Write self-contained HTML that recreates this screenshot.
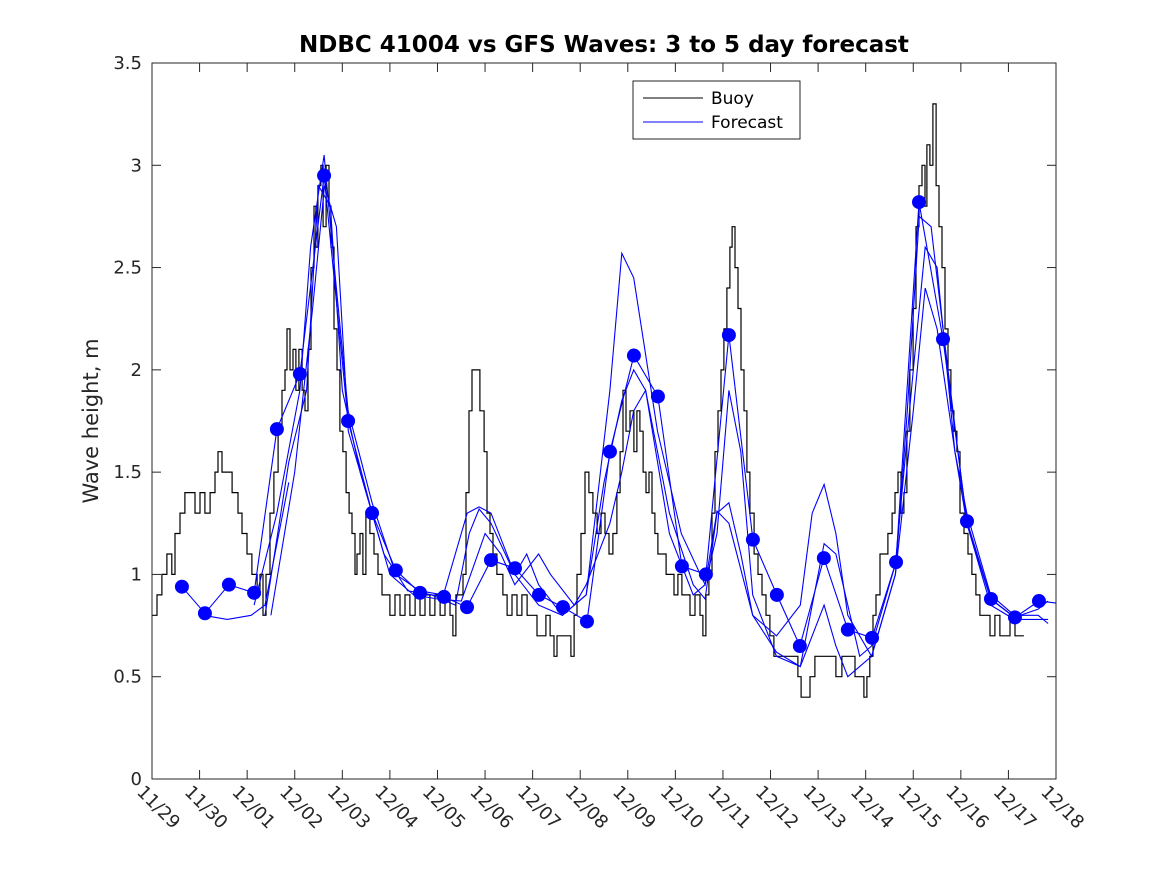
<!DOCTYPE html>
<html><head><meta charset="utf-8"><style>
html,body{margin:0;padding:0;background:#fff;}
svg{display:block;font-family:"DejaVu Sans","Liberation Sans",sans-serif;}
</style></head><body>
<svg id="chart" width="1167" height="875" viewBox="0 0 1167 875" xmlns="http://www.w3.org/2000/svg">
<rect x="0" y="0" width="1167" height="875" fill="#fff"/>
<text x="604" y="52" text-anchor="middle" font-size="23" font-weight="bold" fill="#000">NDBC 41004 vs GFS Waves: 3 to 5 day forecast</text>
<text transform="translate(98,421) rotate(-90)" text-anchor="middle" font-size="21" fill="#262626">Wave height, m</text>
<g id="plot"></g>
<rect x="152" y="63" width="904" height="716" fill="none" stroke="#262626" stroke-width="1"/>
<g>
<rect x="633" y="81" width="167" height="58" fill="#fff" stroke="#262626" stroke-width="1"/>
<line x1="643" y1="98" x2="703" y2="98" stroke="#000" stroke-width="1"/>
<text x="711" y="104" font-size="17" fill="#000">Buoy</text>
<line x1="643" y1="122" x2="703" y2="122" stroke="#0000ff" stroke-width="1"/>
<text x="711" y="128" font-size="17" fill="#000">Forecast</text>
</g>
</svg>
<script>
const xTickLabels = ["11/29","11/30","12/01","12/02","12/03","12/04","12/05","12/06","12/07","12/08","12/09","12/10","12/11","12/12","12/13","12/14","12/15","12/16","12/17","12/18"];
const yTicks = [0,0.5,1,1.5,2,2.5,3,3.5];
const yTickLabels = ["0","0.5","1","1.5","2","2.5","3","3.5"];
const buoyHours = [0,2.5,5,7.5,10,11.6,14.1,16.6,21.7,24.2,26.7,29.3,31.8,33.3,35.3,38.3,40.4,43.4,45.4,47.9,50.4,53,54.5,56,57.5,59.5,61.5,63.6,65.6,67.1,68.1,69.6,71.1,72.6,74.1,75.7,77.2,78.7,80.2,81.7,82.7,83.7,85.2,86.3,87.8,89.3,90.3,91.8,93.3,94.8,96.3,97.9,99.4,100.9,102.4,103.4,104.9,106.4,107.9,109.9,112,114,116,118,120,122.6,125.1,127.6,130.1,132.7,135.2,137.7,140.2,142.7,145.3,147.8,150.3,151.8,153.3,155.4,156.9,158.4,159.9,161.4,163.9,165.4,167.5,169,170.5,172,174,175.5,177,179.1,181.6,184.1,186.6,189.2,191.7,194.2,196.7,198.7,200.8,202.8,204.3,206.8,209.3,211.3,212.9,214.4,216.4,218.4,220.4,222.4,224.5,226.5,228.5,230.5,232.5,234.5,236.1,237.6,239.1,241.1,243.1,244.6,246.1,247.7,249.2,250.7,252.2,253.7,255.2,257.2,259.3,261.3,263.3,265.3,267.3,269.3,271.4,273.9,276.4,277.9,279.4,280.9,282.5,284,285.5,287,288.5,290,291.5,292.6,294.1,295.6,297.1,298.6,300.1,301.6,303.7,305.7,307.7,309.7,311.7,313.7,316.8,319.8,322.8,325.8,327.4,329.9,331.9,334.4,337.9,342,345,348,352,354.6,357.1,359.1,360.6,362.1,363.7,365.2,367.2,369.2,371.2,373.3,374.8,376.3,377.8,379.3,380.8,382.3,383.9,385.4,386.9,388.4,389.9,390.9,392.4,393.9,395.5,397,398.5,400,401.5,403,404.5,406,407.6,409.6,411.6,413.6,415.6,417.6,420.2,422.7,425.2,427.7,430.3,432.8,435.3,437.8,439.8];
const buoyValues = [0.8,0.9,1.0,1.1,1.0,1.2,1.3,1.4,1.3,1.4,1.3,1.4,1.5,1.6,1.5,1.5,1.4,1.3,1.2,1.1,1.0,0.9,1.0,0.8,1.0,1.3,1.5,1.7,1.9,2.0,2.2,2.0,2.1,1.9,2.1,1.9,1.8,2.1,2.5,2.8,2.6,2.9,3.0,2.7,3.0,2.8,2.6,2.2,2.0,1.7,1.6,1.4,1.3,1.2,1.0,1.1,1.2,1.0,1.3,1.2,1.1,1.0,0.9,0.9,0.8,0.9,0.8,0.9,0.8,0.9,0.8,0.9,0.8,0.9,0.8,0.9,0.8,0.7,0.9,0.9,1.0,1.4,1.8,2.0,2.0,1.8,1.6,1.3,1.2,1.1,1.0,1.0,0.9,0.8,0.9,0.8,0.9,0.8,0.8,0.7,0.7,0.8,0.7,0.6,0.7,0.7,0.7,0.6,0.8,1.0,1.2,1.5,1.4,1.3,1.2,1.3,1.2,1.1,1.2,1.4,1.6,1.9,1.7,1.8,1.6,1.8,1.7,1.5,1.4,1.5,1.3,1.2,1.1,1.1,1.0,1.0,0.9,1.0,0.9,0.9,0.8,0.9,0.8,0.7,0.9,1.0,1.3,1.6,1.8,2.0,2.2,2.4,2.6,2.7,2.5,2.3,2.0,1.8,1.5,1.3,1.1,1.0,0.9,0.8,0.7,0.6,0.6,0.6,0.6,0.5,0.4,0.4,0.5,0.6,0.6,0.6,0.5,0.6,0.6,0.5,0.5,0.4,0.5,0.6,0.8,0.9,1.1,1.1,1.2,1.3,1.4,1.5,1.3,1.4,1.7,2.0,2.3,2.7,2.9,3.0,2.8,3.1,3.0,3.3,2.9,2.7,2.5,2.2,2.0,1.8,1.7,1.6,1.3,1.2,1.1,1.0,0.9,0.8,0.8,0.7,0.8,0.7,0.7,0.8,0.7,0.7,0.7];
const dotHours = [15.1,26.7,38.8,51.5,63,74.6,86.8,98.9,111,123,135.2,147.3,158.9,171,183.1,195.2,207.3,219.4,231,243.1,255.2,267.3,279.4,291,303.1,315.2,326.8,338.9,351,363.2,375.3,386.9,399,411.1,423.2,435.3,447.4];
const dotValues = [0.94,0.81,0.95,0.91,1.71,1.98,2.95,1.75,1.30,1.02,0.91,0.89,0.84,1.07,1.03,0.90,0.84,0.77,1.60,2.07,1.87,1.04,1.00,2.17,1.17,0.90,0.65,1.08,0.73,0.69,1.06,2.82,2.15,1.26,0.88,0.79,0.87];
const runBHours = [51.5,63,74.6,80,86.8,92,98.9,111,123,135,147,159,165,171,183,195,207,219,231,237,243,255,267,279,285,291,303,315,327,333,339,345,351,363,375,381,387,393,399,411,423,435,447,452];
const runBValues = [0.85,1.3,1.9,2.6,3.05,2.5,1.8,1.35,1.0,0.92,0.9,1.3,1.33,1.3,1.0,0.85,0.8,0.9,1.9,2.57,2.45,1.7,1.2,0.95,1.31,1.25,0.8,0.7,0.85,1.3,1.44,1.2,0.8,0.6,1.0,1.8,2.75,2.7,2.2,1.25,0.88,0.79,0.83,0.87];
const runCHours = [57,69,78,84,90,96,105,117,129,141,153,160,165,171,183,189,195,207,219,228,237,243,249,261,273,279,285,291,297,303,315,327,333,339,345,357,363,375,384,390,396,405,411,423,435,447,452];
const runCValues = [0.8,1.55,1.9,2.9,2.8,1.9,1.5,1.1,0.92,0.9,0.85,1.2,1.32,1.25,1.0,1.1,0.95,0.8,0.9,1.45,1.85,2.0,1.9,1.3,0.95,0.88,1.3,1.35,1.1,0.8,0.62,0.55,0.85,1.15,1.1,0.6,0.65,1.05,2.0,2.6,2.5,1.6,1.25,0.85,0.78,0.78,0.78];
const runDHours = [60,72,81,87,93,99,108,120,132,144,156,168,176,183,195,201,213,219,231,237,243,249,261,273,279,285,291,297,303,315,327,339,345,351,363,375,384,390,396,405,411,423,435,447,452];
const runDValues = [0.8,1.5,2.3,2.9,2.7,1.7,1.4,1.0,0.9,0.88,0.87,1.2,1.1,0.95,1.1,1.0,0.85,0.95,1.25,1.5,1.8,1.9,1.2,0.9,0.95,1.2,1.9,1.6,0.9,0.6,0.55,0.85,0.65,0.5,0.6,1.0,1.8,2.4,2.2,1.6,1.3,0.9,0.8,0.8,0.76];
const runEHours = [26,38,50,57,63,69];
const runEValues = [0.8,0.78,0.8,0.85,1.15,1.45];

const X0=152, X1=1056, Y0=779, Y1=63, TOTAL_H=19*24;
function xScale(h){ return X0 + h/TOTAL_H*(X1-X0); }
function yScale(v){ return Y0 - v/3.5*(Y0-Y1); }
const NS="http://www.w3.org/2000/svg";
const svg=document.getElementById('chart');
const plot=document.getElementById('plot');
function mk(tag, attrs, parent){ const e=document.createElementNS(NS,tag); for(const k in attrs) e.setAttribute(k,attrs[k]); (parent||plot).appendChild(e); return e; }

yTicks.forEach((v,i)=>{
  const y=yScale(v);
  const t1=mk('line',{x1:X0,y1:y,x2:X0+9,y2:y,stroke:'#262626'});
  
  
  const t2=mk('line',{x1:X1,y1:y,x2:X1-9,y2:y,stroke:'#262626'});
  
  
  const tx=mk('text',{x:X0-10,y:y+6,'text-anchor':'end','font-size':18,fill:'#262626'});
  tx.textContent=yTickLabels[i];
  
  
});
xTickLabels.forEach((lab,i)=>{
  const x=xScale(i*24);
  const t1=mk('line',{x1:x,y1:Y0,x2:x,y2:Y0-9,stroke:'#262626'});
  
  
  const t2=mk('line',{x1:x,y1:Y1,x2:x,y2:Y1+9,stroke:'#262626'});
  
  
  const tx=mk('text',{transform:`translate(${x-16},${Y0+14}) rotate(45)`,'font-size':18,fill:'#262626'});
  tx.textContent=lab;
  
  
});

function linePath(hs,vs){ return hs.map((h,i)=>(i?'L':'M')+xScale(h).toFixed(1)+' '+yScale(vs[i]).toFixed(1)).join(''); }
function stepPath(hs,vs){
  let d='M'+xScale(hs[0]).toFixed(1)+' '+yScale(vs[0]).toFixed(1);
  for(let i=1;i<hs.length;i++){
    const x=xScale(hs[i]).toFixed(1);
    d+='L'+x+' '+yScale(vs[i-1]).toFixed(1)+'L'+x+' '+yScale(vs[i]).toFixed(1);
  }
  return d;
}
const buoy=mk('path',{d:stepPath(buoyHours,buoyValues),fill:'none',stroke:'#000','stroke-width':1.2});



[[runBHours,runBValues,'forecast-run-b'],[runCHours,runCValues,'forecast-run-c'],[runDHours,runDValues,'forecast-run-d'],[runEHours,runEValues,'forecast-run-e']].forEach(r=>{
  const p=mk('path',{d:linePath(r[0],r[1]),fill:'none',stroke:'#0000ff','stroke-width':1.1});
  
  
});
const runA=mk('path',{d:linePath(dotHours.concat([456]),dotValues.concat([0.86])),fill:'none',stroke:'#0000ff','stroke-width':1.1});



dotHours.forEach((h,i)=>{
  const c=mk('ellipse',{cx:xScale(h),cy:yScale(dotValues[i]),rx:7,ry:7,fill:'#0000ff'});
  
  
});
</script>
</body></html>
